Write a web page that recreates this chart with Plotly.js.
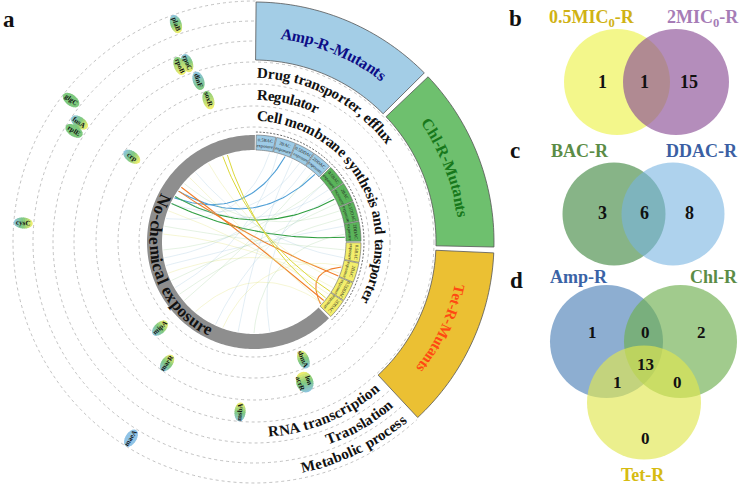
<!DOCTYPE html>
<html><head><meta charset="utf-8">
<script src="https://cdn.plot.ly/plotly-3.0.1.min.js"></script>
<style>html,body{margin:0;padding:0;background:#fff}#chart{width:741px;height:489px}</style>
</head><body><div id="chart"></div>
<script>
// ================= DATA =================
const ringCategories = ["Cell membrane synthesis and tansporter","Regulator","Drug transporter, efflux","RNA transcription","Translation","Metabolic process"];
const ringLabelSide = ["top","top","top","bottom","bottom","bottom"];
const mutantGroups = ["Amp-R-Mutants","Chl-R-Mutants","Tet-R-Mutants"];
const exposureLabels = ["0.5BAC","2BAC","0.5DDAC","2DDAC"];
const controlLabel = "No-chemical exposure";

const genes      = ["plaB","rpoC","rpoB","dinF","soxR","glgC","fusA","rplE","crp","cysC","mipA","marR","sbmA","lon<br>acrR","msbA","maeA"];
const geneRing   = [5,3,3,2,1,5,4,4,1,5,0,1,0,1,2,5];
const geneAngle  = [109.7,110.5,112.9,109.0,107.8,142.2,145.6,148.3,145.1,175.3,222.5,234.3,292.8,289.9,265.3,237.9];
const geneGroups = [[0,1,2],[0,1,2],[1,2],[0,1],[1,2],[1],[0,1,2],[1],[0,1,2],[0,1,2],[0,1,2],[0,1,2],[0,1,2],[0,1,2],[0,1,2],[0]];

// links: angle on treated segment -> angle on control ring, colour group
const chordFrom  = [70,48,28,3,-22,-40,-16,-33,-38,
                    -10,20,35,60,80,-5,-30,40,10,-20,75,50,-42,30,-15,65,5,40,-25,-42,25,55,-35,15];
const chordTo    = [151,146,150,155,146,143,-43,110,107,
                    130,140,150,155,165,170,175,185,195,200,210,220,230,245,250,260,270,280,120,135,205,190,160,215];
const chordGroup = [0,0,1,1,2,2,2,3,3,
                    4,5,4,4,4,5,6,5,4,6,4,5,6,4,6,4,5,4,6,6,5,4,6,5];

// Venn diagrams
const vennBSets = ["0.5MIC<sub>0</sub>-R","2MIC<sub>0</sub>-R"];
const vennBCounts = [1,1,15];           // only first, both, only second
const vennCSets = ["BAC-R","DDAC-R"];
const vennCCounts = [3,6,8];
const vennDSets = ["Amp-R","Chl-R","Tet-R"];
const vennDCounts = [1,0,2,13,1,0,0];   // A, A&C, C, A&C&T, A&T, C&T, T
const panelLetters = ["a","b","c","d"];

// ================= GEOMETRY / STYLE =================
const CX=254, CY=242;
const ringEdges=[115,136,158,180,201,221,241];
const ringMid=[127.5,149,170.5,191,211.5,231.5];
const labelR=[126,147.5,169,190,211,231];
const SERIF='Liberation Serif, Times New Roman, serif';
const shapes=[], annotations=[], traces=[];

function P(r,deg){const t=deg*Math.PI/180;return [CX+r*Math.cos(t), CY-r*Math.sin(t)];}
function pathFrom(pts,close){return 'M'+pts.map(p=>p[0].toFixed(2)+','+p[1].toFixed(2)).join('L')+(close?'Z':'');}
function sectorPath(r0,r1,a0,a1){
  const n=Math.max(6,Math.ceil(Math.abs(a1-a0)/1.2));const pts=[];
  for(let i=0;i<=n;i++)pts.push(P(r1,a0+(a1-a0)*i/n));
  for(let i=n;i>=0;i--)pts.push(P(r0,a0+(a1-a0)*i/n));
  return pathFrom(pts,true);
}
function arcPath(r,a0,a1){const n=Math.ceil(Math.abs(a1-a0));const pts=[];for(let i=0;i<=n;i++)pts.push(P(r,a0+(a1-a0)*i/n));return pathFrom(pts,false);}
function norm(a){a=((a+180)%360+360)%360-180;return a;}
function readable(a){a=norm(a);if(a>90)a-=180;if(a<=-90)a+=180;return a;}

const ctx=document.createElement('canvas').getContext('2d');
function curvedText(str,r,anchorAng,align,dir,size,color){
  ctx.font='bold '+size+'px "Liberation Serif"';
  const chars=[...str];const w=chars.map(c=>ctx.measureText(c).width);
  const total=w.reduce((a,b)=>a+b,0);const totDeg=total/r*180/Math.PI;
  const sgn = dir==='cw' ? -1 : 1;
  let start;
  if(align==='start') start=anchorAng;
  else if(align==='end') start=anchorAng - sgn*totDeg;
  else start=anchorAng - sgn*totDeg/2;
  let s=0;
  chars.forEach((c,i)=>{
    const mid=s+w[i]/2;s+=w[i];
    if(c===' ')return;
    const ang=start+sgn*mid/r*180/Math.PI;
    const [x,y]=P(r,ang);
    const rot= dir==='cw' ? 90-ang : -90-ang;
    annotations.push({x,y,xref:'x',yref:'y',text:c,showarrow:false,textangle:norm(rot),
      xanchor:'center',yanchor:'middle',font:{family:SERIF,size:size,color:color,weight:'bold'},borderpad:0});
  });
}

// ---- dotted rings ----
ringEdges.forEach(r=>{
  shapes.push({type:'circle',xref:'x',yref:'y',x0:CX-r,x1:CX+r,y0:CY-r,y1:CY+r,
    line:{color:'#a8a8a8',width:0.7,dash:'dot'},fillcolor:'rgba(0,0,0,0)'});
});
// white backing behind mutant sectors
shapes.push({type:'path',path:sectorPath(181,244,89.6,-47.5),fillcolor:'#ffffff',line:{width:0}});

// ---- outer mutant sectors ----
const sectorSpan=[[89.5,44.8],[43.5,-1.2],[-2.6,-47]];
const sectorFill=['#a3cde6','#6ec06e','#ebc033'];
const sectorText=['#0c0c86','#17781b','#ff4a12'];
const sectorTextSize=[16,16,15];
mutantGroups.forEach((g,i)=>{
  const [a0,a1]=sectorSpan[i];
  shapes.push({type:'path',path:sectorPath(182,240,a0,a1),fillcolor:sectorFill[i],line:{color:'#555',width:0.8}});
  curvedText(g,210,(a0+a1)/2,'center','cw',sectorTextSize[i],sectorText[i]);
});

// ---- inner control ring + exposure boxes ----
shapes.push({type:'path',path:sectorPath(92,107,89.5,314.5),fillcolor:'#8e8e8e',line:{width:0}});
const boxFill=['#9dcbe6','#5ab45a','#f3ee6c'];
mutantGroups.forEach((g,gi)=>{
  const a0=[88.8,44.2,-0.4][gi];
  exposureLabels.forEach((e,k)=>{
    const b0=a0-k*11.05, b1=b0-10.6;
    shapes.push({type:'path',path:sectorPath(92,107,b0,b1),fillcolor:boxFill[gi],line:{color:'#666',width:0.6}});
    const m=(b0+b1)/2;const [x,y]=P(99.5,m);
    annotations.push({x,y,xref:'x',yref:'y',text:e+'<br>exposure',showarrow:false,textangle:norm(90-m),
      font:{family:SERIF,size:4.5,color:'#222'},xanchor:'center',yanchor:'middle',borderpad:0});
  });
});
shapes.push({type:'path',path:arcPath(110,89,-45),fillcolor:'rgba(0,0,0,0)',line:{color:'#444',width:0.8,dash:'2px,1.5px'}});
curvedText(controlLabel,99,198.5,'center','ccw',17,'#111');

// ---- category labels ----
ringCategories.forEach((c,i)=>{
  if(ringLabelSide[i]==='top') curvedText(c,labelR[i],88.8,'start','cw',15,'#111');
  else curvedText(c,labelR[i],-49.5,'end','ccw',15,'#111');
});

// ---- chords ----
const chordColor=['#4f9fd6','#2e9e3e','#f07f2a','#dcd83a','rgba(140,185,215,0.35)','rgba(150,200,140,0.35)','rgba(225,225,120,0.45)'];
const chordWidth=[1.1,1.1,1.1,1.0,0.7,0.7,0.7];
chordFrom.forEach((a,i)=>{
  const b=chordTo[i];const p0=P(91,a),p2=P(91,b);
  let dAng=Math.abs(norm(b-a));
  const k=Math.max(0,1-dAng/110);
  let midA=a+norm(b-a)/2;
  const c=P(91*k*0.85,midA);
  const xs=[],ys=[];
  for(let j=0;j<=40;j++){const t=j/40;const u=1-t;
    xs.push(u*u*p0[0]+2*u*t*c[0]+t*t*p2[0]);ys.push(u*u*p0[1]+2*u*t*c[1]+t*t*p2[1]);}
  const g=chordGroup[i];
  traces.push({type:'scatter',mode:'lines',x:xs,y:ys,hoverinfo:'skip',
    line:{color:chordColor[g],width:chordWidth[g],shape:'linear'}});
});

// ---- gene markers ----
const geneCol=[[143,195,230],[125,200,125],[245,240,110]];
function lerpCols(list,t){
  if(list.length===1)return list[0];
  const f=t*(list.length-1);const i=Math.min(list.length-2,Math.floor(f));const r=f-i;
  return list[i].map((v,j)=>Math.round(v+(list[i+1][j]-v)*r));
}
genes.forEach((g,i)=>{
  const th=geneAngle[i];const r=ringMid[geneRing[i]];const [px,py]=P(r,th);
  const two=g.indexOf('<br>')>=0;
  const a=two?10.5:9.5, b=two?8.5:5.5;
  const t=th*Math.PI/180;const d=[Math.cos(t),-Math.sin(t)],n=[Math.sin(t),Math.cos(t)];
  const cols=geneGroups[i].map(k=>geneCol[k]);
  const N=10;
  for(let k=0;k<N;k++){
    let u0=a-2*a*k/N+0.3, u1=a-2*a*(k+1)/N-0.3;
    u0=Math.min(a,u0);u1=Math.max(-a,u1);
    const pts=[];const m=5;
    for(let j=0;j<=m;j++){const u=u0+(u1-u0)*j/m;const v=b*Math.sqrt(Math.max(0,1-(u/a)**2));pts.push([px+u*d[0]+v*n[0],py+u*d[1]+v*n[1]]);}
    for(let j=m;j>=0;j--){const u=u0+(u1-u0)*j/m;const v=-b*Math.sqrt(Math.max(0,1-(u/a)**2));pts.push([px+u*d[0]+v*n[0],py+u*d[1]+v*n[1]]);}
    const c=lerpCols(cols,(k+0.5)/N);
    shapes.push({type:'path',path:pathFrom(pts,true),fillcolor:'rgb('+c.join(',')+')',line:{width:0},layer:'above'});
  }
  annotations.push({x:px,y:py,xref:'x',yref:'y',text:g,showarrow:false,textangle:readable(-th),
    font:{family:SERIF,size:7,color:'#111',weight:'bold'},xanchor:'center',yanchor:'middle',borderpad:0});
});

// ---- Venn diagrams ----
function circ(cx,cy,r,fill){shapes.push({type:'circle',xref:'x',yref:'y',x0:cx-r,x1:cx+r,y0:cy-r,y1:cy+r,fillcolor:fill,line:{width:0},layer:'above'});}
function txt(x,y,t,size,color){annotations.push({x,y,xref:'x',yref:'y',text:t,showarrow:false,xanchor:'center',yanchor:'middle',
  font:{family:SERIF,size:size,color:color,weight:'bold'}});}
// b
circ(617,82,53,'rgba(240,245,110,0.8)');
circ(676,82,53,'rgba(140,80,150,0.65)');
txt(592,18,vennBSets[0],18,'#d0b214');txt(703,18,vennBSets[1],18,'#a67cb6');
[[602,82],[644,82],[689,82]].forEach((p,i)=>txt(p[0],p[1],String(vennBCounts[i]),18,'#111'));
// c
circ(614,214,51.5,'rgba(70,140,70,0.65)');
circ(673,214,51.5,'rgba(120,180,225,0.6)');
txt(580,151,vennCSets[0],18,'#5b8c46');txt(702,151,vennCSets[1],18,'#3b5fa3');
[[602,213],[644,213],[689,213]].forEach((p,i)=>txt(p[0],p[1],String(vennCCounts[i]),18,'#111'));
// d
circ(606.5,341.5,56.5,'rgba(80,130,185,0.65)');
circ(680.5,341.5,56.5,'rgba(110,175,80,0.65)');
circ(644,402.5,57,'rgba(225,230,80,0.65)');
txt(579,277,vennDSets[0],18,'#3a63a6');txt(714,277,vennDSets[1],18,'#5b8c46');txt(643,475,vennDSets[2],18,'#d6bb12');
[[592,332],[645,332],[701,332],[645,364],[617,382],[677,382],[645,438]].forEach((p,i)=>txt(p[0],p[1],String(vennDCounts[i]),17,'#111'));
// panel letters
[[9,19],[515,18],[515,150],[516,280]].forEach((p,i)=>txt(p[0],p[1],panelLetters[i],23,'#111'));

const layout={width:741,height:489,margin:{l:0,r:0,t:0,b:0},paper_bgcolor:'#fff',plot_bgcolor:'#fff',
  xaxis:{range:[0,741],visible:false,fixedrange:true},yaxis:{range:[489,0],visible:false,fixedrange:true},
  showlegend:false,shapes:shapes,annotations:annotations};
Plotly.newPlot('chart',traces,layout,{staticPlot:true,displayModeBar:false});
</script></body></html>
